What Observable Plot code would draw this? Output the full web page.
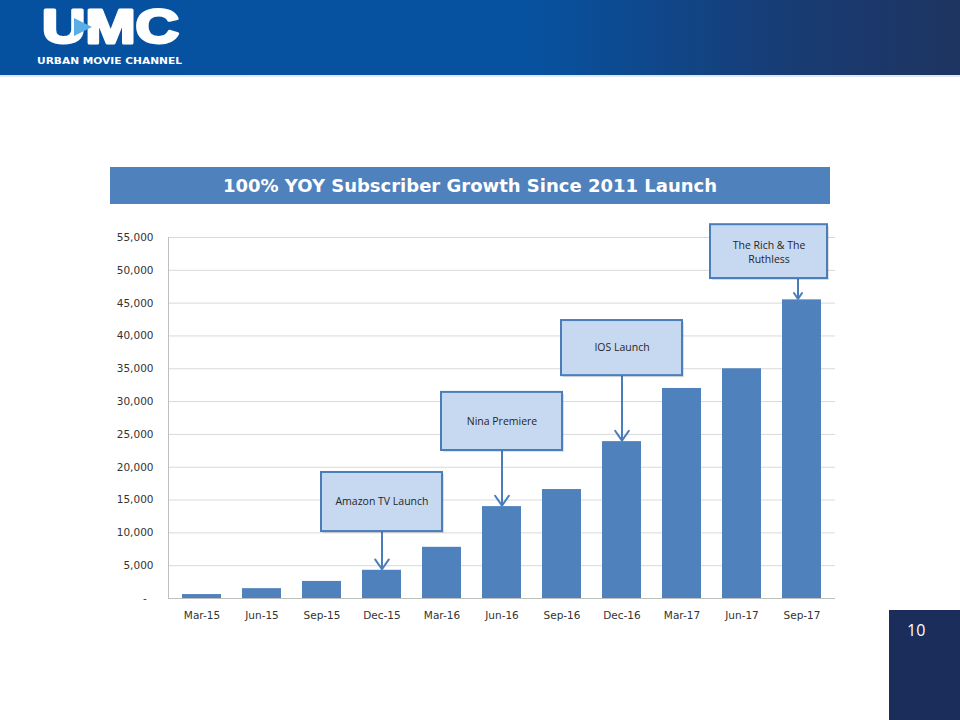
<!DOCTYPE html>
<html>
<head>
<meta charset="utf-8">
<script src="https://cdn.jsdelivr.net/npm/d3@7"></script>
<script src="https://cdn.jsdelivr.net/npm/@observablehq/plot@0.6"></script>
<style>
html, body { margin: 0; padding: 0; background: #fff; }
#page { position: relative; width: 960px; height: 720px; overflow: hidden; background: #fff; font-family: "DejaVu Sans", sans-serif; }
#header { position: absolute; left: 0; top: 0; width: 960px; height: 75px;
  background: linear-gradient(90deg, #0650a0 0%, #0752a0 55%, #183c74 82%, #1e3461 100%);
  border-bottom: 2px solid #dfe7f1; }
#header svg { position: absolute; left: 0; top: 0; }
#title { position: absolute; left: 110px; top: 167px; width: 720px; height: 37px; background: #4f81bd;
  color: #fff; font-weight: bold; font-size: 18px; line-height: 37px; text-align: center; font-family: "DejaVu Sans", sans-serif; }
#pagenum { position: absolute; left: 889px; top: 610px; width: 71px; height: 110px; background: #1b2d5a;
  color: #fff; font-family: "Open Sans", sans-serif; font-size: 16px; }
#pagenum span { position: absolute; left: 18px; top: 9px; }
#chart { position: absolute; left: 100px; top: 215px; }
#chart svg { overflow: visible; }
</style>
</head>
<body>
<div id="page">
  <div id="header">
    <svg width="220" height="75">
      <text x="42" y="43" font-family="Liberation Sans, Arial, sans-serif" font-weight="bold" font-size="48" fill="#fff" stroke="#fff" stroke-width="3" stroke-linejoin="round" textLength="137" lengthAdjust="spacingAndGlyphs">UMC</text>
      <polygon points="74,18 74,36 92,27" fill="#5aaee6"/>
      <text x="37" y="64" font-family="DejaVu Sans, sans-serif" font-weight="bold" font-size="8" fill="#fff" textLength="145" lengthAdjust="spacingAndGlyphs">URBAN MOVIE CHANNEL</text>
    </svg>
  </div>
  <div id="title">100% YOY Subscriber Growth Since 2011 Launch</div>
  <div id="chart"></div>
  <div id="pagenum"><span>10</span></div>
</div>
<script>
// ---- data ----
const months = ["Mar-15", "Jun-15", "Sep-15", "Dec-15", "Mar-16", "Jun-16", "Sep-16", "Dec-16", "Mar-17", "Jun-17", "Sep-17"];
const subscribers = [600, 1500, 2600, 4300, 7800, 14000, 16600, 23900, 32000, 35000, 45500];
const yTicks = [0, 5000, 10000, 15000, 20000, 25000, 30000, 35000, 40000, 45000, 50000, 55000];

// annotation callouts (box extents in subscriber units)
const annMonths = ["Dec-15", "Jun-16", "Dec-16", "Sep-17"];
const annLabels = ["Amazon TV Launch", "Nina Premiere", "IOS Launch", "The Rich & The\nRuthless"];
const annTop = [19200, 31400, 42350, 56950];
const annBottom = [10200, 22550, 33950, 48750];

// ---- tables ----
const bars = months.map((m, i) => ({month: m, value: subscribers[i]}));
const notes = annMonths.map((m, i) => ({
  month: m, label: annLabels[i], top: annTop[i], bottom: annBottom[i],
  mid: (annTop[i] + annBottom[i]) / 2,
  target: subscribers[months.indexOf(m)]
}));
const mainNotes = notes.slice(0, 3);
const lastNote = notes.slice(3);

const boxFill = "#c6d9f1", boxStroke = "#4a7ebb", arrowColor = "#4a7ebb";
const noteFont = {fontFamily: "Open Sans, sans-serif", fontSize: 10.5, fill: "#262626"};

const chart = Plot.plot({
  width: 760,
  height: 415,
  marginLeft: 68,
  marginRight: 25,
  marginTop: 22,
  marginBottom: 32,
  style: {fontFamily: "DejaVu Sans, sans-serif", fontSize: "10.5px", color: "#333", background: "transparent", overflow: "visible"},
  x: {type: "band", domain: months, paddingInner: 0.356, paddingOuter: 0.178, label: null, tickSize: 0, tickPadding: 13},
  y: {domain: [0, 55000], ticks: yTicks, tickFormat: d => d === 0 ? "-\u00a0\u00a0" : d3.format(",")(d), label: null, tickSize: 0, tickPadding: 15},
  marks: [
    Plot.ruleY(yTicks.filter(d => d > 0), {stroke: "#d9d9d9", strokeWidth: 1}),
    Plot.barY(bars, {x: "month", y: "value", fill: "#4f81bd"}),
    Plot.ruleY([0], {stroke: "#bfbfbf"}),
    Plot.frame({anchor: "left", stroke: "#bfbfbf"}),
    // arrows
    Plot.arrow(mainNotes, {x1: "month", x2: "month", y1: "bottom", y2: "target", stroke: arrowColor, strokeWidth: 2, headLength: 9, headAngle: 70, insetEnd: 1}),
    Plot.arrow(lastNote, {x1: "month", x2: "month", y1: "bottom", y2: "target", stroke: arrowColor, strokeWidth: 2, headLength: 9, headAngle: 70, insetEnd: 1, dx: -4}),
    // box shadows
    Plot.barY(mainNotes, {x: "month", y1: "bottom", y2: "top", insetLeft: -41, insetRight: -41, fill: "#000", fillOpacity: 0.12, dx: 2, dy: 2}),
    Plot.barY(lastNote, {x: "month", y1: "bottom", y2: "top", insetLeft: -72, insetRight: -6, fill: "#000", fillOpacity: 0.12, dx: 2, dy: 2}),
    // boxes
    Plot.barY(mainNotes, {x: "month", y1: "bottom", y2: "top", insetLeft: -41, insetRight: -41, fill: boxFill, stroke: boxStroke, strokeWidth: 2}),
    Plot.barY(lastNote, {x: "month", y1: "bottom", y2: "top", insetLeft: -72, insetRight: -6, fill: boxFill, stroke: boxStroke, strokeWidth: 2}),
    // labels
    Plot.text(mainNotes, {x: "month", y: "mid", text: "label", ...noteFont}),
    Plot.text(lastNote, {x: "month", y: "mid", text: "label", dx: -33, lineHeight: 1.3, ...noteFont})
  ]
});
document.getElementById("chart").appendChild(chart);
</script>
</body>
</html>
